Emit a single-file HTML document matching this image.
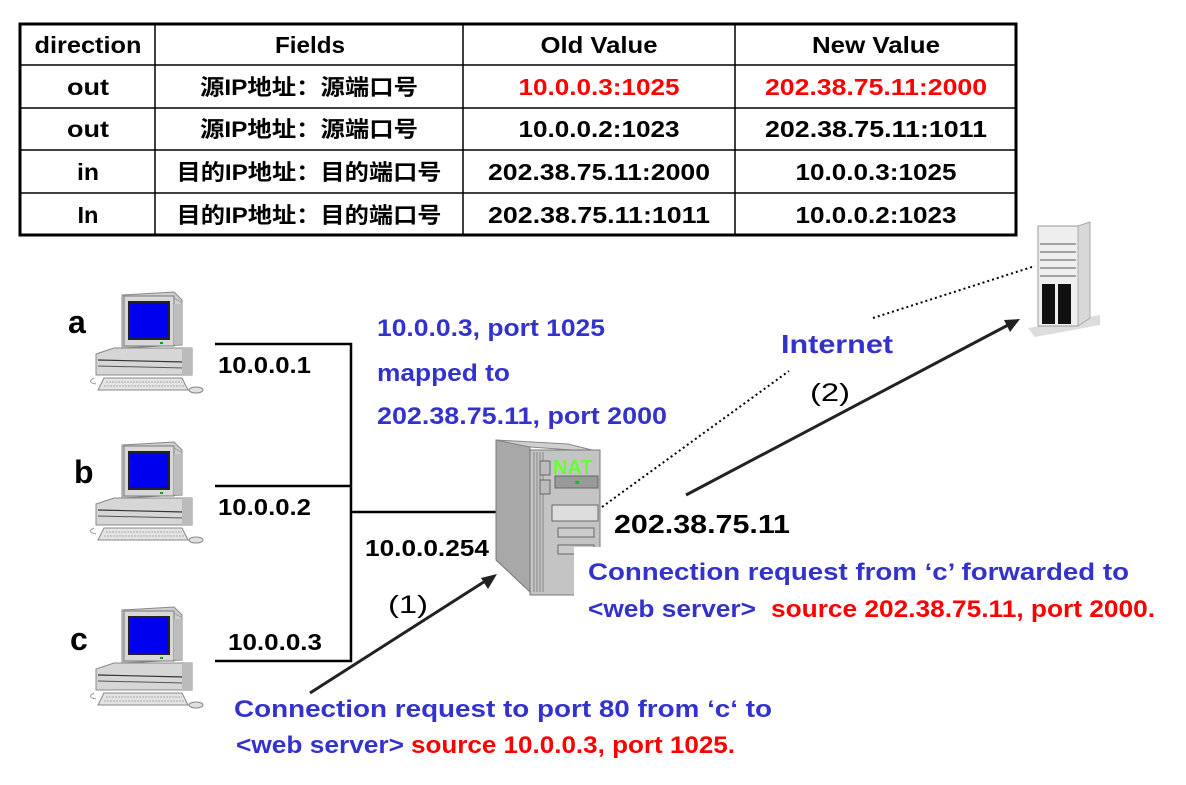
<!DOCTYPE html>
<html><head><meta charset="utf-8"><style>
html,body{margin:0;padding:0;background:#fff;}
svg{display:block;font-family:"Liberation Sans","Noto Sans CJK SC",sans-serif;font-weight:bold;}
</style></head><body>
<svg width="1186" height="785" viewBox="0 0 1186 785" xmlns="http://www.w3.org/2000/svg">
<defs>
<g id="pc">
  <polygon points="38,5 90,2 98,10 98,55 38,58" fill="#cfcfcf" stroke="#888" stroke-width="1"/>
  <rect x="40" y="6" width="50" height="50" fill="#d8d8d8" stroke="#777" stroke-width="1"/>
  <rect x="45" y="12" width="40" height="37" fill="#0000ee" stroke="#222" stroke-width="2"/>
  <line x1="90" y1="8" x2="97" y2="12" stroke="#999"/>
  <rect x="90" y="14" width="8" height="40" fill="#bdbdbd"/>
  <rect x="76" y="52" width="3" height="2" fill="#0a0"/>
  <polygon points="12,64 30,58 108,58 108,85 12,85" fill="#d6d6d6" stroke="#888" stroke-width="1"/>
  <line x1="14" y1="70" x2="100" y2="72" stroke="#333" stroke-width="1.2"/>
  <line x1="14" y1="76" x2="100" y2="78" stroke="#555" stroke-width="1"/>
  <rect x="98" y="58" width="10" height="27" fill="#bbb"/>
  <polygon points="20,88 98,88 104,100 14,100" fill="#e3e3e3" stroke="#888" stroke-width="1"/>
  <line x1="22" y1="92" x2="98" y2="92" stroke="#aaa" stroke-dasharray="2,1"/>
  <line x1="20" y1="96" x2="100" y2="96" stroke="#aaa" stroke-dasharray="2,1"/>
  <ellipse cx="112" cy="100" rx="7" ry="3" fill="#e0e0e0" stroke="#888"/>
  <path d="M10,88 Q2,92 12,94" fill="none" stroke="#999"/>
</g>
</defs>

<rect x="20" y="24" width="996" height="211" fill="#fff" stroke="#000" stroke-width="3"/>
<g stroke="#000" stroke-width="1.5">
<line x1="155" y1="24" x2="155" y2="235"/>
<line x1="463" y1="24" x2="463" y2="235"/>
<line x1="735" y1="24" x2="735" y2="235"/>
<line x1="20" y1="65" x2="1016" y2="65"/>
<line x1="20" y1="108" x2="1016" y2="108"/>
<line x1="20" y1="150" x2="1016" y2="150"/>
<line x1="20" y1="193" x2="1016" y2="193"/>
</g>
<g font-size="23" text-anchor="middle" fill="#000" lengthAdjust="spacingAndGlyphs">
<text x="88" y="53" textLength="107" lengthAdjust="spacingAndGlyphs">direction</text>
<text x="310" y="53" textLength="70" lengthAdjust="spacingAndGlyphs">Fields</text>
<text x="599" y="53" textLength="117" lengthAdjust="spacingAndGlyphs">Old Value</text>
<text x="876" y="53" textLength="128" lengthAdjust="spacingAndGlyphs">New Value</text>
<text x="88" y="95" textLength="42" lengthAdjust="spacingAndGlyphs">out</text>
<text x="309" y="95" font-size="22" textLength="218" lengthAdjust="spacingAndGlyphs">源IP地址：源端口号</text>
<text x="599" y="95" fill="#ff0000" textLength="161" lengthAdjust="spacingAndGlyphs">10.0.0.3:1025</text>
<text x="876" y="95" fill="#ff0000" textLength="222" lengthAdjust="spacingAndGlyphs">202.38.75.11:2000</text>
<text x="88" y="137" textLength="42" lengthAdjust="spacingAndGlyphs">out</text>
<text x="309" y="137" font-size="22" textLength="218" lengthAdjust="spacingAndGlyphs">源IP地址：源端口号</text>
<text x="599" y="137" textLength="161" lengthAdjust="spacingAndGlyphs">10.0.0.2:1023</text>
<text x="876" y="137" textLength="222" lengthAdjust="spacingAndGlyphs">202.38.75.11:1011</text>
<text x="88" y="180" textLength="22" lengthAdjust="spacingAndGlyphs">in</text>
<text x="309" y="180" font-size="22" textLength="265" lengthAdjust="spacingAndGlyphs">目的IP地址：目的端口号</text>
<text x="599" y="180" textLength="222" lengthAdjust="spacingAndGlyphs">202.38.75.11:2000</text>
<text x="876" y="180" textLength="161" lengthAdjust="spacingAndGlyphs">10.0.0.3:1025</text>
<text x="88" y="223" textLength="21" lengthAdjust="spacingAndGlyphs">In</text>
<text x="309" y="223" font-size="22" textLength="265" lengthAdjust="spacingAndGlyphs">目的IP地址：目的端口号</text>
<text x="599" y="223" textLength="222" lengthAdjust="spacingAndGlyphs">202.38.75.11:1011</text>
<text x="876" y="223" textLength="161" lengthAdjust="spacingAndGlyphs">10.0.0.2:1023</text>
</g>

<use href="#pc" x="84" y="290"/>
<use href="#pc" x="84" y="440"/>
<use href="#pc" x="84" y="605"/>
<g font-size="32" fill="#000">
<text x="68" y="333">a</text>
<text x="74" y="483">b</text>
<text x="70" y="650">c</text>
</g>

<g stroke="#000" stroke-width="2.5" fill="none">
<polyline points="215,344 351,344 351,661 215,661"/>
<line x1="215" y1="486" x2="351" y2="486"/>
<line x1="351" y1="512" x2="497" y2="512"/>
</g>
<g font-size="23" fill="#000">
<text x="218" y="373" textLength="93" lengthAdjust="spacingAndGlyphs">10.0.0.1</text>
<text x="218" y="515" textLength="93" lengthAdjust="spacingAndGlyphs">10.0.0.2</text>
<text x="228" y="650" textLength="94" lengthAdjust="spacingAndGlyphs">10.0.0.3</text>
<text x="365" y="556" textLength="124" lengthAdjust="spacingAndGlyphs">10.0.0.254</text>
</g>

<g>
  <polygon points="496,440 530,447 530,592 496,560" fill="#a8a8a8" stroke="#777"/>
  <polygon points="496,440 530,447 600,452 568,444" fill="#d0d0d0" stroke="#888"/>
  <rect x="530" y="450" width="70" height="145" fill="#c4c4c4" stroke="#777"/>
  <g stroke="#888" stroke-width="1">
    <line x1="534" y1="452" x2="534" y2="592"/><line x1="537" y1="452" x2="537" y2="592"/>
    <line x1="540" y1="452" x2="540" y2="592"/><line x1="543" y1="452" x2="543" y2="592"/>
  </g>
  <rect x="540" y="461" width="10" height="14" fill="#bbb" stroke="#666"/>
  <rect x="540" y="480" width="10" height="14" fill="#bbb" stroke="#666"/>
  <rect x="555" y="476" width="43" height="12" fill="#999" stroke="#666"/>
  <rect x="575" y="481" width="4" height="3" fill="#0c0"/>
  <rect x="552" y="505" width="46" height="16" fill="#ddd" stroke="#666"/>
  <rect x="558" y="528" width="36" height="9" fill="#ccc" stroke="#666"/>
  <rect x="558" y="545" width="36" height="9" fill="#ccc" stroke="#666"/>
  <text x="553" y="474" font-size="20" fill="#66ff33">NAT</text>
</g>
<rect x="574" y="547" width="40" height="60" fill="#fff"/>

<g>
  <polygon points="1028,328 1100,315 1100,325 1035,337" fill="#ddd"/>
  <rect x="1038" y="226" width="40" height="100" fill="#eee" stroke="#999"/>
  <polygon points="1078,226 1090,222 1090,318 1078,326" fill="#d8d8d8" stroke="#aaa"/>
  <g stroke="#555" stroke-width="1">
    <line x1="1040" y1="244" x2="1076" y2="244"/><line x1="1040" y1="252" x2="1076" y2="252"/>
    <line x1="1040" y1="260" x2="1076" y2="260"/><line x1="1040" y1="268" x2="1076" y2="268"/>
    <line x1="1040" y1="276" x2="1076" y2="276"/>
  </g>
  <rect x="1042" y="284" width="13" height="40" fill="#111"/>
  <rect x="1058" y="284" width="13" height="40" fill="#111"/>
</g>

<g stroke="#000" stroke-width="2" stroke-dasharray="2,3" fill="none">
<line x1="602" y1="507" x2="789" y2="371"/>
<line x1="873" y1="318" x2="1035" y2="266"/>
</g>
<g stroke="#222" stroke-width="3" fill="#222">
<line x1="310" y1="693" x2="490" y2="578"/>
<line x1="686" y1="495" x2="1010" y2="324"/>
</g>
<polygon points="497,574 481,578 488,589" fill="#222"/>
<polygon points="1020,319 1004,320 1010,332" fill="#222"/>

<g font-size="25" font-weight="normal" fill="#000">
<text x="388" y="613" textLength="40" lengthAdjust="spacingAndGlyphs">(1)</text>
<text x="810" y="401" textLength="40" lengthAdjust="spacingAndGlyphs">(2)</text>
</g>

<g font-size="24" fill="#3333cc">
<text x="377" y="336" textLength="228" lengthAdjust="spacingAndGlyphs">10.0.0.3, port 1025</text>
<text x="377" y="381" textLength="133" lengthAdjust="spacingAndGlyphs">mapped to</text>
<text x="377" y="424" textLength="290" lengthAdjust="spacingAndGlyphs">202.38.75.11, port 2000</text>
<text x="781" y="353" font-size="26" textLength="112" lengthAdjust="spacingAndGlyphs">Internet</text>
<text x="588" y="580" textLength="541" lengthAdjust="spacingAndGlyphs">Connection request from ‘c’ forwarded to</text>
<text x="588" y="617" textLength="168" lengthAdjust="spacingAndGlyphs">&lt;web server&gt;</text>
<text x="234" y="717" textLength="538" lengthAdjust="spacingAndGlyphs">Connection request to port 80 from ‘c‘ to</text>
<text x="236" y="753" textLength="168" lengthAdjust="spacingAndGlyphs">&lt;web server&gt;</text>
</g>
<g font-size="24" fill="#ff0000">
<text x="771" y="617" textLength="384" lengthAdjust="spacingAndGlyphs">source 202.38.75.11, port 2000.</text>
<text x="411" y="753" textLength="324" lengthAdjust="spacingAndGlyphs">source 10.0.0.3, port 1025.</text>
</g>
<text x="614" y="533" font-size="26" fill="#000" textLength="176" lengthAdjust="spacingAndGlyphs">202.38.75.11</text>
</svg>
</body></html>
